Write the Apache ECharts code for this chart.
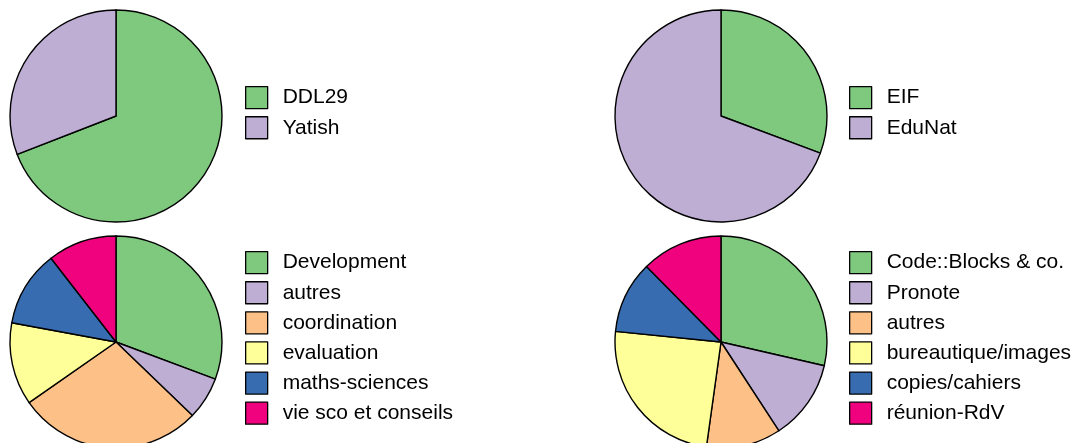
<!DOCTYPE html>
<html>
<head>
<meta charset="utf-8">
<script src="https://cdn.jsdelivr.net/npm/echarts@6/dist/echarts.min.js"></script>
<style>
html,body{margin:0;padding:0;background:#fff;}
#chart{width:1077px;height:443px;}
</style>
</head>
<body>
<div id="chart"></div>
<script>
// Data
const pie1Names = ['DDL29', 'Yatish'];
const pie1Values = [69.1, 30.9];
const pie2Names = ['EIF', 'EduNat'];
const pie2Values = [30.7, 69.3];
const pie3Names = ['Development', 'autres', 'coordination', 'evaluation', 'maths-sciences', 'vie sco et conseils'];
const pie3Values = [30.7, 6.5, 28.1, 12.6, 11.6, 10.5];
const pie4Names = ['Code::Blocks & co.', 'Pronote', 'autres', 'bureautique/images', 'copies/cahiers', 'réunion-RdV'];
const pie4Values = [28.6, 12.2, 11.4, 24.4, 11.0, 12.4];

const palette = ['#7FC97F', '#BEAED4', '#FDC086', '#FFFF99', '#386CB0', '#F0027F'];

const chart = echarts.init(document.getElementById('chart'), null, {renderer: 'canvas'});

function makeSeries(names, values, center) {
  return {
    type: 'pie',
    center: center,
    radius: 106,
    startAngle: 90,
    clockwise: true,
    animation: false,
    silent: true,
    label: {show: false},
    labelLine: {show: false},
    emphasis: {disabled: true},
    itemStyle: {borderColor: '#000', borderWidth: 1.4},
    data: names.map((n, i) => ({name: n, value: values[i], itemStyle: {color: palette[i]}}))
  };
}

function makeLegend(names, left, top) {
  return {
    orient: 'vertical',
    left: left,
    top: top,
    itemWidth: 22,
    itemHeight: 22,
    itemGap: 6.8,
    icon: 'rect',
    selectedMode: false,
    padding: 0,
    itemStyle: {borderColor: '#000', borderWidth: 1.3},
    textStyle: {fontFamily: 'Liberation Sans, Arial, sans-serif', fontSize: 21, color: '#000', lineHeight: 22, padding: [0, 0, 0, 10]},
    data: names.map((n, i) => ({name: n, itemStyle: {color: palette[i], borderColor: '#000', borderWidth: 1.3}}))
  };
}

chart.setOption({
  backgroundColor: '#fff',
  animation: false,
  legend: [
    makeLegend(pie1Names, 245, 86),
    makeLegend(pie2Names, 849, 86),
    makeLegend(pie3Names, 245, 251),
    makeLegend(pie4Names, 849, 251)
  ],
  series: [
    makeSeries(pie1Names, pie1Values, [116, 116]),
    makeSeries(pie2Names, pie2Values, [721, 116]),
    makeSeries(pie3Names, pie3Values, [116, 342]),
    makeSeries(pie4Names, pie4Values, [721, 342])
  ]
});
</script>
</body>
</html>
